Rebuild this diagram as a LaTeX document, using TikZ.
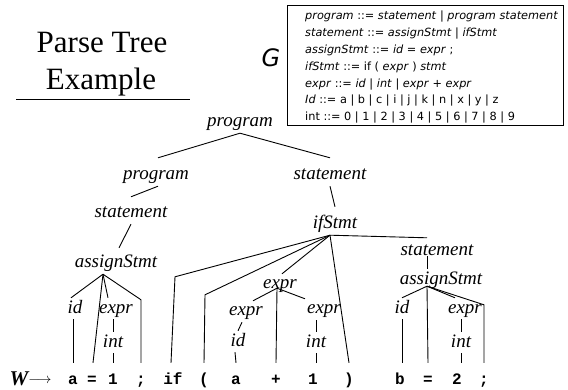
\documentclass[tikz,border=0pt]{standalone}
\usepackage{fontspec}
\setmainfont{Liberation Serif}
\newfontfamily\codefont{Liberation Mono}
\newfontfamily\gramfont{DejaVu Sans}
\begin{document}
\begin{tikzpicture}[x=1pt,y=-1pt,
  lbl/.style={font=\fontsize{19}{22}\selectfont\itshape, text height=13pt, text depth=4pt, inner xsep=1pt, inner ysep=2pt, anchor=base},
  tok/.style={font=\codefont\bfseries\fontsize{16}{18}\selectfont, text height=11pt, text depth=3pt, inner xsep=1pt, inner ysep=10pt, anchor=base},
  edge/.style={line width=0.9pt, line join=miter},
  gramframe/.style={draw, line width=1pt, minimum width=276pt, minimum height=120pt, inner sep=0pt},
  gramtext/.style={align=left, inner sep=0pt, font=\gramfont\fontsize{11.3}{16.8}\selectfont}
]
\useasboundingbox (0,0) rectangle (568,390);

% title
\node[anchor=base, font=\fontsize{31}{37}\selectfont] (t1) at (102,53) {Parse Tree};
\node[anchor=base, font=\fontsize{31}{37}\selectfont] (t2) at (101,90) {Example};
\coordinate (ul1) at (16,99);
\coordinate (ul2) at (190,99);
\draw[line width=0.9pt] (ul1) -- (ul2);

% grammar
\node[font=\gramfont\itshape\fontsize{24}{28}\selectfont] (glab) at (271,58) {G};
\node[gramframe, anchor=north west] (gbox) at (287,5) {};
\node[gramtext, anchor=north west] (gtext) at (305,11) {%
\textit{program} ::= \textit{statement} | \textit{program statement}\\
\textit{statement} ::= \textit{assignStmt} | \textit{ifStmt}\\
\textit{assignStmt} ::= \textit{id} = \textit{expr} ;\\
\textit{ifStmt} ::= if ( \textit{expr} ) \textit{stmt}\\
\textit{expr} ::= \textit{id} | \textit{int} | \textit{expr} + \textit{expr}\\
\textit{Id} ::= a | b | c | i | j | k | n | x | y | z\\
int ::= 0 | 1 | 2 | 3 | 4 | 5 | 6 | 7 | 8 | 9};

% tree labels
\node[lbl] (p0) at (240,127) {program};
\node[lbl] (p1) at (156,180) {program};
\node[lbl] (s1) at (330,180) {statement};
\node[lbl] (s2) at (131,218) {statement};
\node[lbl] (ifs) at (335,229) {ifStmt};
\node[lbl] (as1) at (116,268) {assignStmt};
\node[lbl] (s3) at (437,256) {statement};
\node[lbl] (as2) at (441,284) {assignStmt};
\node[lbl] (id1) at (75,313) {id};
\node[lbl] (ex1) at (116,313) {expr};
\node[lbl] (ex2) at (280,289) {expr};
\node[lbl] (ex3) at (246,316) {expr};
\node[lbl] (ex4) at (324,314) {expr};
\node[lbl] (id2) at (238,346) {id};
\node[lbl] (int1) at (113,347) {int};
\node[lbl] (int2) at (316,347) {int};
\node[lbl] (id3) at (402,313) {id};
\node[lbl] (ex5) at (465,313) {expr};
\node[lbl] (int3) at (461,347) {int};

% string w
\node[anchor=base, font=\fontsize{21}{24}\selectfont\bfseries\itshape] (wsym) at (19,385) {W};
\node[anchor=base, font=\fontsize{15}{18}\selectfont] (warr) at (40,383) {$\longrightarrow$};
\node[tok] (ta1) at (73,384) {a};
\node[tok] (teq1) at (92,384) {=};
\node[tok] (tone1) at (113,384) {1};
\node[tok] (tsc1) at (141,384) {;};
\node[tok] (tif) at (173,384) {if};
\node[tok] (tlp) at (204,384) {(};
\node[tok] (ta2) at (236,384) {a};
\node[tok] (tplus) at (276,384) {+};
\node[tok] (tone2) at (313,384) {1};
\node[tok] (trp) at (349,384) {)};
\node[tok] (tb) at (400,384) {b};
\node[tok] (teq2) at (428,384) {=};
\node[tok] (ttwo) at (457,384) {2};
\node[tok] (tsc2) at (484,384) {;};

% connectors
\draw[edge] (p0.south) -- ([shift={(2pt,7pt)}]p1.north);
\draw[edge] (p0.south) -- ([yshift=7pt]s1.north);
\draw[edge] ([xshift=2pt]p1.south) -- ([yshift=6pt]s2.north);
\draw[edge] (s1.south) -- ([yshift=7pt]ifs.north);
\draw[edge] (s2.south) -- ([shift={(3pt,5pt)}]as1.north);

\draw[edge] ([xshift=-5pt]ifs.south) -- ([shift={(2pt,86pt)}]tif.north) -- ([xshift=-2pt]tif.north);
\draw[edge] ([xshift=-5pt]ifs.south) -- ([shift={(1pt,68pt)}]tlp.north) -- (tlp.north);
\draw[edge] ([xshift=-5pt]ifs.south) -- ([xshift=2pt]ex2.north);
\draw[edge] ([xshift=-5pt]ifs.south) -- (trp.north);
\draw[edge] ([xshift=-5pt]ifs.south) -- ([shift={(-10pt,3pt)}]s3.north);

\draw[edge] ([shift={(-3pt,7pt)}]ex2.south) -- ([xshift=7pt]ex3.north);
\draw[edge] ([shift={(-3pt,7pt)}]ex2.south) -- ([xshift=-19pt]ex4.north);
\draw[edge] ([shift={(-3pt,7pt)}]ex2.south) -- (tplus.north);
\draw[edge] ([xshift=-4pt]ex3.south) -- (id2.north);
\draw[edge] ([xshift=-3pt]id2.south) -- (ta2.north);
\draw[edge] ([xshift=-8pt]ex4.south) -- (int2.north);
\draw[edge] (int2.south) -- (int2.south |- tone2.north);

\draw[edge] ([shift={(-10pt,6pt)}]s3.south) -- ([xshift=-14pt]as2.north);
\draw[edge] ([shift={(-14pt,4pt)}]as2.south) -- (id3.north);
\draw[edge] ([shift={(-14pt,4pt)}]as2.south) -- (teq2.north);
\draw[edge] ([shift={(-14pt,4pt)}]as2.south) -- ([xshift=-10pt]ex5.north);
\draw[edge] ([shift={(-14pt,4pt)}]as2.south) -- ([yshift=58pt]tsc2.north) -- (tsc2.north);
\draw[edge] (id3.south) -- (id3.south |- tb.north);
\draw[edge] ([xshift=-4pt]ex5.south) -- (int3.north);
\draw[edge] (int3.south) -- (int3.south |- ttwo.north);

\draw[edge] ([xshift=-13pt]as1.south) -- ([xshift=-4pt]id1.north);
\draw[edge] ([xshift=-13pt]as1.south) -- ([xshift=1pt]teq1.north);
\draw[edge] ([xshift=-13pt]as1.south) -- ([xshift=-8pt]ex1.north);
\draw[edge] ([xshift=-13pt]as1.south) -- ([yshift=63pt]tsc1.north) -- (tsc1.north);
\draw[edge] ([xshift=-1pt]id1.south) -- (id1.south -| ta1.north) -- (ta1.north);
\draw[edge] ([xshift=-3pt]ex1.south) -- (int1.north);
\draw[edge] (int1.south) -- (tone1.north);
\end{tikzpicture}
\end{document}
